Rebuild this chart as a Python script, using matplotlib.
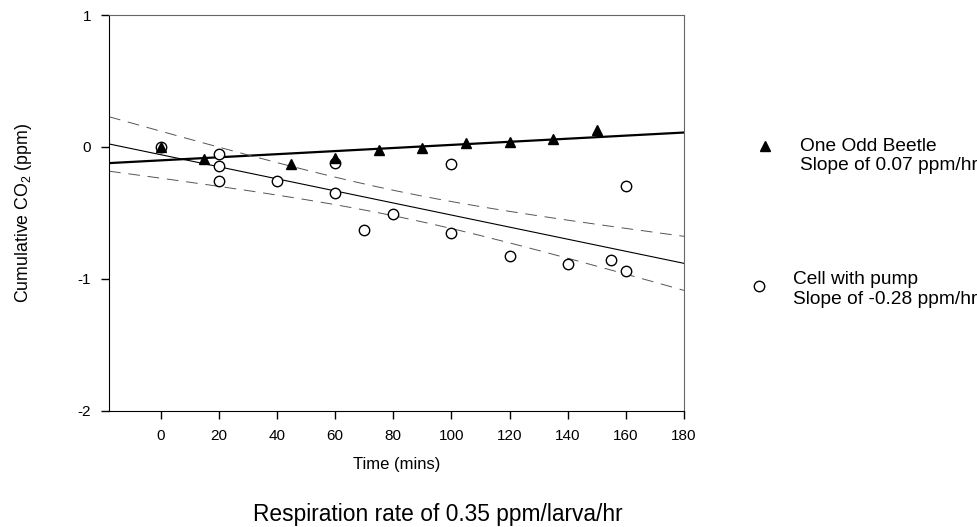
import numpy as np
import matplotlib
matplotlib.use("Agg")
import matplotlib.pyplot as plt
from matplotlib.lines import Line2D

plt.rcParams['font.family'] = ['Liberation Sans', 'DejaVu Sans']
plt.rcParams['mathtext.fontset'] = 'custom'
plt.rcParams['mathtext.rm'] = 'Liberation Sans'
plt.rcParams['axes.unicode_minus'] = False

# Data
beetle_t = [0, 15, 45, 60, 75, 90, 105, 120, 135, 150]
beetle_co2 = [0.0, -0.088, -0.131, -0.086, -0.025, -0.01, 0.026, 0.038, 0.061, 0.127]

pump_t = [0, 20, 20, 20, 40, 60, 60, 70, 80, 100, 100, 120, 140, 155, 160, 160]
pump_co2 = [0.0, -0.05, -0.147, -0.255, -0.26, -0.121, -0.346, -0.627, -0.509,
            -0.126, -0.655, -0.83, -0.888, -0.86, -0.944, -0.296]

xticks = [0, 20, 40, 60, 80, 100, 120, 140, 160, 180]
yticks = [-2, -1, 0, 1]

xmin, xmax = -17.7, 180

fig = plt.figure(figsize=(9.78, 5.27), dpi=100)
ax = fig.add_axes([0.1115, 0.2207, 0.5879, 0.7508])

xx = np.linspace(xmin, xmax, 200)

# Beetle regression
bt = np.array(beetle_t, float); bc = np.array(beetle_co2, float)
pb = np.polyfit(bt, bc, 1)
ax.plot(xx, np.polyval(pb, xx), color='black', lw=1.6, zorder=2)

# Pump regression + confidence band
pt = np.array(pump_t, float); pc = np.array(pump_co2, float)
pp = np.polyfit(pt, pc, 1)
yfit = np.polyval(pp, xx)
n = len(pt)
resid = pc - np.polyval(pp, pt)
s = np.sqrt(np.sum(resid**2) / (n - 2))
mx = pt.mean()
sxx = np.sum((pt - mx)**2)
tval = 1.761  # t(0.95, 14)
half = tval * s * np.sqrt(1.0 / n + (xx - mx)**2 / sxx)
ax.plot(xx, yfit, color='black', lw=0.8, zorder=2)
ax.plot(xx, yfit + half, color='#555555', lw=0.7, dashes=(12, 8), zorder=2)
ax.plot(xx, yfit - half, color='#555555', lw=0.7, dashes=(12, 8), zorder=2)

ax.plot(pt, pc, linestyle='none', marker='o', ms=7.5, mfc='white', mec='black', mew=1.0, zorder=3)
ax.plot(bt, bc, linestyle='none', marker='^', ms=7.5, mfc='black', mec='black', zorder=4)

ax.set_xlim(xmin, xmax)
ax.set_ylim(-2, 1)
ax.set_xticks(xticks)
ax.set_yticks(yticks)
ax.tick_params(direction='out', length=6, width=1, labelsize=11, pad=7)
for side in ['left', 'bottom']:
    ax.spines[side].set_color('black')
for side in ['top', 'right']:
    ax.spines[side].set_color('#666666')

ax.set_xlabel('Time (mins)', fontsize=12, labelpad=10)
ax.set_ylabel(r'Cumulative CO$_\mathregular{2}$ (ppm)', fontsize=12.8, labelpad=31)

# Legend (manual)
fig.add_artist(Line2D([765 / 978], [1 - 146 / 527], marker='^', ms=7.5, color='black', linestyle='none'))
fig.text(800 / 978, 1 - 146 / 527, 'One Odd Beetle', fontsize=13.8, va='center', ha='left')
fig.text(800 / 978, 1 - 166 / 527, 'Slope of 0.07 ppm/hr', fontsize=13.8, va='center', ha='left')

fig.add_artist(Line2D([759 / 978], [1 - 286 / 527], marker='o', ms=7.5, mfc='white', mec='black', linestyle='none'))
fig.text(793 / 978, 1 - 279 / 527, 'Cell with pump', fontsize=13.8, va='center', ha='left')
fig.text(793 / 978, 1 - 299 / 527, 'Slope of -0.28 ppm/hr', fontsize=13.8, va='center', ha='left')

fig.text(438 / 978, 1 - 514 / 527, 'Respiration rate of 0.35 ppm/larva/hr', fontsize=16.4, ha='center', va='center')

fig.savefig('out.png', dpi=100)
